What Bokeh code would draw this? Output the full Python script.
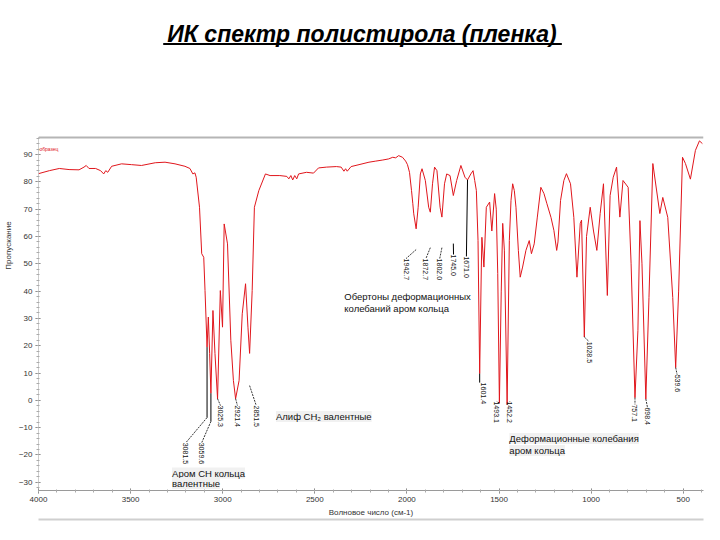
import math
import numpy as np
from bokeh.plotting import figure
from bokeh.models import (Range1d, SingleIntervalTicker, FixedTicker, LinearAxis, Label,
                          Arrow, Span, ColumnDataSource)
from bokeh.core.properties import value
from bokeh.embed import file_html
from bokeh.resources import INLINE

# ---------------- data ----------------
wavenumber = [
    4000, 3941, 3887, 3834, 3780, 3753, 3741, 3726, 3690, 3663, 3646, 3635, 3624, 3603,
    3549, 3495, 3441, 3366, 3313, 3259, 3205, 3178, 3162, 3151, 3144, 3126, 3114, 3103,
    3096, 3085, 3078, 3071, 3064, 3053, 3042, 3028, 3013, 3001, 2992, 2974, 2956, 2942,
    2930, 2911, 2894, 2876, 2863, 2854, 2840, 2828, 2804, 2768, 2743, 2690, 2652, 2641,
    2630, 2620, 2609, 2598, 2588, 2545, 2507, 2480, 2437, 2383, 2357, 2342, 2333, 2324,
    2303, 2260, 2206, 2169, 2131, 2099, 2077, 2061, 2045, 2024, 2007, 1997, 1986, 1975,
    1968, 1963, 1950, 1939, 1927, 1918, 1900, 1882, 1873, 1861, 1850, 1837, 1820, 1810,
    1796, 1784, 1766, 1748, 1730, 1707, 1685, 1671, 1653, 1641, 1632, 1623, 1614, 1605,
    1596, 1593, 1582, 1569, 1551, 1539, 1524, 1515, 1507, 1498, 1488, 1480, 1471, 1456,
    1444, 1435, 1426, 1417, 1408, 1395, 1385, 1372, 1354, 1336, 1324, 1309, 1292, 1273,
    1256, 1240, 1218, 1202, 1187, 1180, 1166, 1148, 1134, 1112, 1094, 1077, 1059, 1052,
    1037, 1025, 1005, 987, 969, 951, 933, 912, 897, 880, 862, 844, 827, 799,
    783, 762, 746, 735, 724, 703, 686, 665, 627, 611, 584, 557, 541, 525,
    504, 488, 461, 434, 412, 396,
]
transmittance = [
    83.0, 84.1, 84.9, 84.5, 84.4, 85.4, 86.0, 84.9, 84.9, 84.1, 82.9, 84.1, 83.5, 85.7,
    86.6, 86.3, 86.0, 87.0, 87.2, 86.6, 85.7, 84.9, 82.9, 83.3, 81.7, 70.7, 53.7, 52.4,
    40.2, 19.5, 30.5, 17.2, 2.6, 32.9, 17.2, 0.6, 40.2, 26.8, 64.6, 57.3, 22.0, 7.3,
    0.6, 7.3, 31.7, 42.7, 26.8, 17.2, 40.2, 70.7, 76.8, 82.9, 82.3, 82.3, 82.0, 81.1,
    82.3, 80.7, 82.3, 81.1, 82.9, 83.5, 83.2, 85.1, 85.4, 85.6, 85.4, 83.9, 84.8, 83.9,
    85.6, 86.3, 87.2, 87.6, 88.0, 88.4, 89.0, 88.8, 89.6, 89.0, 87.6, 86.3, 83.5, 76.8,
    72.0, 68.3, 62.8, 70.7, 82.9, 84.8, 80.5, 70.7, 68.9, 79.3, 85.4, 84.1, 70.7, 67.1,
    79.3, 82.9, 82.3, 75.0, 80.5, 86.0, 81.7, 80.7, 82.9, 84.1, 80.5, 76.8, 58.5, 9.8,
    48.8, 59.7, 48.8, 70.7, 72.6, 62.0, 75.7, 70.0, 46.4, -1.0, 40.0, 64.8, 55.0, -1.5,
    58.5, 73.2, 79.3, 76.8, 70.7, 54.9, 45.1, 48.8, 54.9, 58.5, 53.7, 57.3, 67.1, 78.0,
    75.7, 72.0, 67.0, 62.2, 54.9, 58.0, 73.2, 80.5, 83.0, 79.3, 67.0, 45.1, 64.8, 66.0,
    23.2, 60.0, 70.7, 62.0, 54.9, 68.4, 79.3, 38.4, 75.0, 81.7, 85.4, 67.1, 80.5, 78.0,
    50.0, 1.0, 25.6, 65.8, 50.0, 0.5, 37.7, 86.7, 68.4, 74.3, 67.0, 37.7, 12.0, 40.0,
    89.0, 86.7, 81.0, 91.5, 95.0, 94.0,
]

peak_wn = [3085, 3064, 3028, 2930, 2854, 1950, 1873, 1810, 1748, 1671,
           1605, 1498, 1456, 1037, 762, 703, 541]
peak_text = ["3081.5", "3059.6", "3025.3", "2921.4", "2851.5", "1942.7", "1872.7",
             "1802.0", "1745.0", "1671.0", "1601.4", "1493.1", "1452.2", "1028.5",
             "757.1", "698.4", "539.6"]

x_ticks_step = 500
y_ticks_step = 10

# ---------------- layout of annotations (positions only) ----------------
label_x = [3200, 3114, 3012, 2920, 2818, 2005, 1897, 1822, 1747, 1677,
           1583, 1513, 1441, 1011, 762, 694, 533]
label_top = [-15.5, -15.5, -1.9, -1.9, -1.9, 51.9, 51.9, 51.9, 53.4, 52.7,
             6.5, -0.4, -0.4, 21.5, -1.5, -2.6, 9.4]
leader_start = [None, None, None, None, 5.4, 55.2, 55.9, 55.9, 57.4, None,
                None, None, None, None, None, None, None]
leader_bend = [-6.3, -7.7] + [None] * 15
solid_leaders = (8, 9, 10)

FONT = "Liberation Sans"
Y_TOP = 146.4      # top of canvas in data units (frame spans the full height)
AXIS_TOP = 96.2

p = figure(width=704, height=530, output_backend="svg", toolbar_location=None,
           x_range=Range1d(4000, 390), y_range=Range1d(-33, Y_TOP),
           min_border_left=31, min_border_right=1, min_border_top=0,
           min_border_bottom=40)
p.outline_line_color = None
p.background_fill_color = "white"
p.xgrid.visible = False
p.ygrid.visible = False

p.xaxis.ticker = SingleIntervalTicker(interval=x_ticks_step, num_minor_ticks=5)
p.yaxis.ticker = SingleIntervalTicker(interval=y_ticks_step, num_minor_ticks=5)
p.yaxis.bounds = (-33, AXIS_TOP)
for ax in (p.xaxis[0], p.yaxis[0]):
    ax.axis_line_color = "#9a9a9a"
    ax.major_tick_line_color = "#777777"
    ax.minor_tick_line_color = "#aaaaaa"
    ax.major_tick_in = 2
    ax.major_tick_out = 3
    ax.minor_tick_in = 1
    ax.minor_tick_out = 2
    ax.major_label_text_font = FONT
    ax.major_label_text_font_size = "8px"
    ax.major_label_text_color = "#333333"
    ax.axis_label_text_font = FONT
    ax.axis_label_text_font_size = "8px"
    ax.axis_label_text_font_style = "normal"
    ax.axis_label_text_color = "#333333"
    ax.major_label_standoff = 3
    ax.axis_label_standoff = 3
p.yaxis.axis_line_dash = "1 1"
p.xaxis.axis_label = "Волновое число (см-1)"
p.yaxis.axis_label = "Пропускание"

# bottom frame line of the embedded picture (an empty axis stacked below)
frame_axis = LinearAxis(ticker=FixedTicker(ticks=[]), axis_line_color="#cfcfcf",
                        axis_line_width=2, major_tick_line_color=None,
                        minor_tick_line_color=None, major_label_text_font_size="0px")
p.add_layout(frame_axis, "below")

# top frame line of the embedded picture
p.add_layout(Span(location=AXIS_TOP, dimension="width", line_color="#b5b5b5", line_width=2))

# spectrum
src = ColumnDataSource(dict(x=wavenumber, y=transmittance))
p.line("x", "y", source=src, line_color="#e0161c", line_width=1)

# peak leaders
peak_T = list(np.interp(peak_wn, wavenumber[::-1], transmittance[::-1]))
xs, ys, dashes_x, dashes_y = [], [], [], []
for i, w in enumerate(peak_wn):
    start = peak_T[i] if leader_start[i] is None else leader_start[i]
    if leader_bend[i] is not None:
        xs.append([w, w]); ys.append([start, leader_bend[i]])
        dashes_x.append([w, label_x[i]]); dashes_y.append([leader_bend[i], label_top[i]])
    elif i in solid_leaders:
        end_x = w if i == 10 else label_x[i]
        xs.append([w, end_x]); ys.append([start, label_top[i]])
    else:
        dashes_x.append([w, label_x[i]]); dashes_y.append([start, label_top[i]])
p.multi_line(xs, ys, line_color="black", line_width=1)
p.multi_line(dashes_x, dashes_y, line_color="black", line_width=0.8, line_dash="2 1")

lab_src = ColumnDataSource(dict(x=label_x, y=label_top, text=peak_text))
p.text("x", "y", text="text", source=lab_src, angle=-math.pi / 2,
       text_font=value(FONT), text_font_size="7px", text_color="#111111",
       text_align="left", text_baseline="middle")

# text annotations (y = vertical centre of the line)
def note(x, y, t, bg=True, size="9.5px"):
    lab = Label(x=x, y=y, text=t, text_font=FONT, text_font_size=size,
                text_color="#111111", text_align="left", text_baseline="middle")
    if bg:
        lab.background_fill_color = "#f1f1f1"
    p.add_layout(lab)

note(2711, -5.9, "Алиф CH₂ валентные")
note(2340, 38.0, "Обертоны деформационных", bg=False)
note(2340, 33.6, "колебаний аром кольца", bg=False)
note(3275, -26.6, "Аром CH кольца")
note(3275, -30.4, "валентные")
note(1444, -14.0, "Деформационные колебания")
note(1444, -18.4, "аром кольца")

p.add_layout(Label(x=3995, y=92.2, text="образец", text_font=FONT, text_font_size="5px",
                   text_color="#e0161c", text_align="left", text_baseline="middle"))

# title
p.add_layout(Label(x=2244, y=134.3, text="ИК спектр полистирола (пленка)", text_font=FONT,
                   text_font_size="23px", text_font_style="bold italic", text_color="black",
                   text_align="center", text_baseline="middle"))
p.add_layout(Arrow(end=None, x_start=3323, y_start=130.5, x_end=1159, y_end=130.5,
                   line_color="black", line_width=2))

open("out.html", "w").write(file_html(p, INLINE))
